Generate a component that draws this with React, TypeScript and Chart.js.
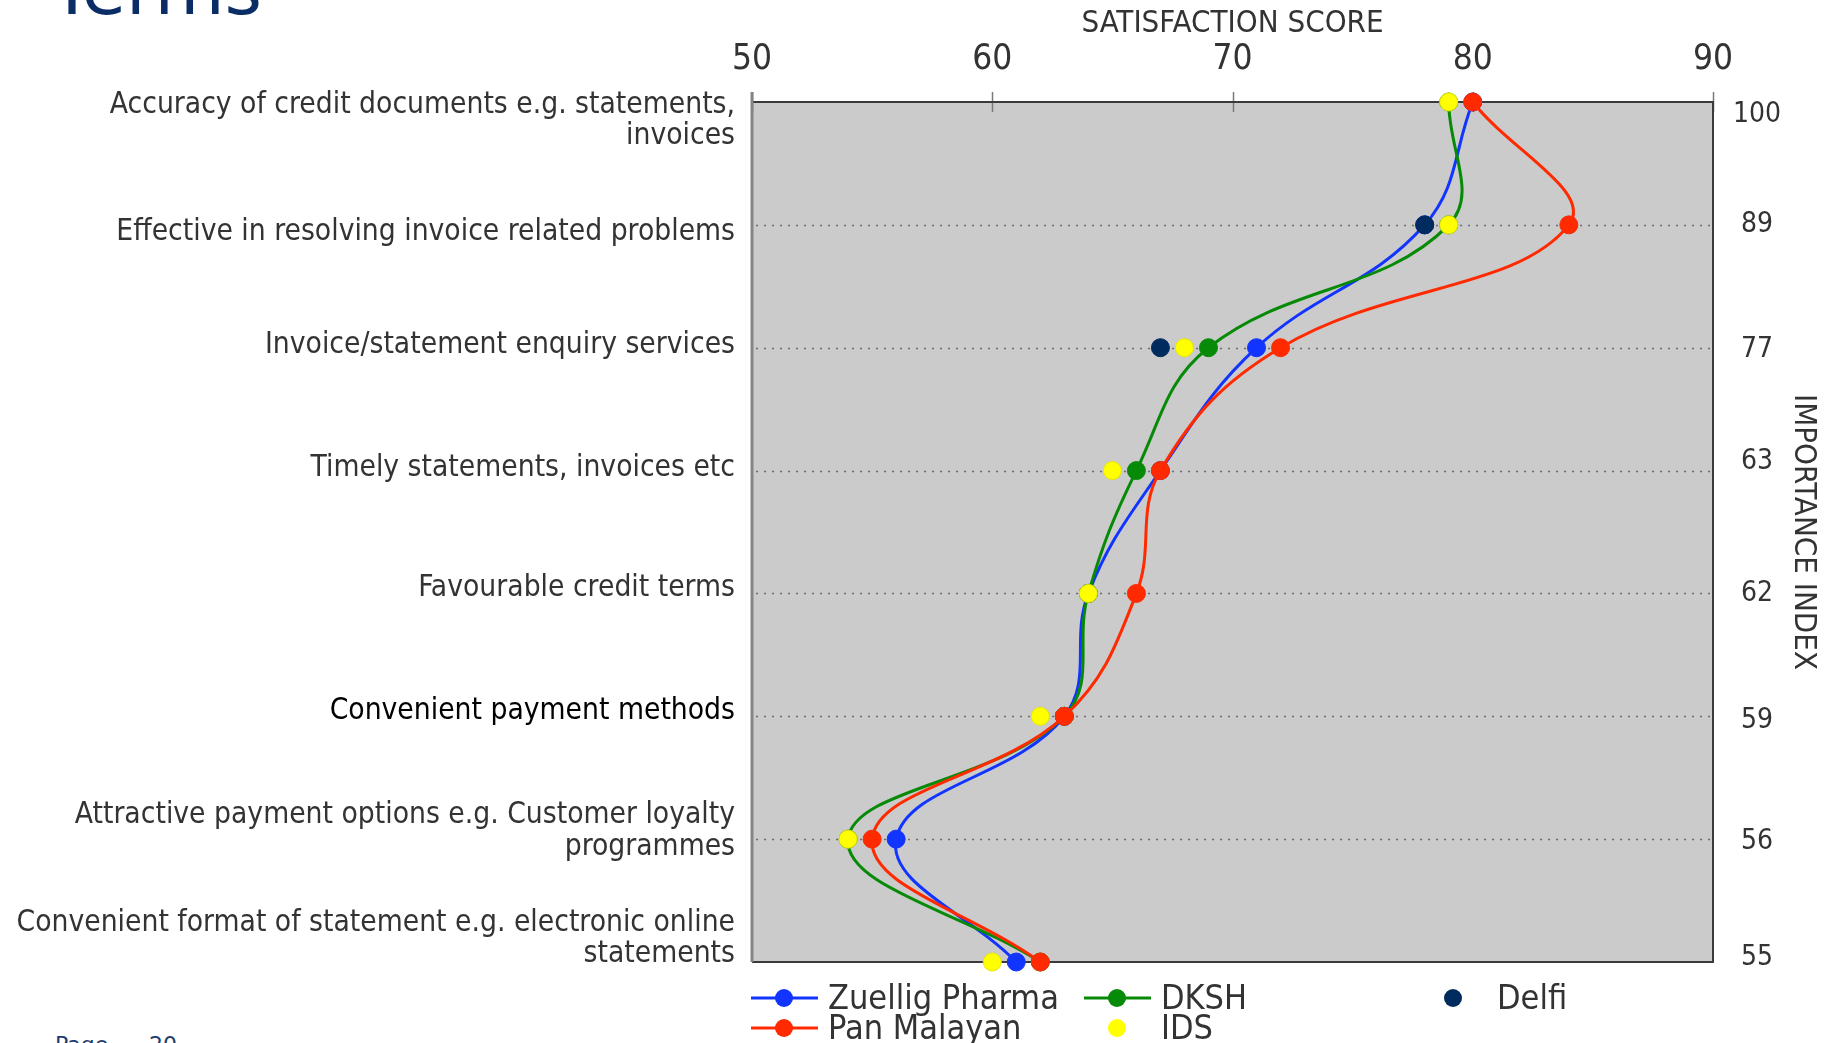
import React, { useEffect, useRef } from 'react';
import { Chart, registerables } from 'chart.js';

Chart.register(...registerables);

const categories: (string | string[])[] = [
  ['Accuracy of credit documents e.g. statements,', 'invoices'],
  'Effective in resolving invoice related problems',
  'Invoice/statement enquiry services',
  'Timely statements, invoices etc',
  'Favourable credit terms',
  'Convenient payment methods',
  ['Attractive payment options e.g. Customer loyalty', 'programmes'],
  ['Convenient format of statement e.g. electronic online', 'statements'],
];
const importanceIndex = ['100', '89', '77', '63', '62', '59', '56', '55'];
const scoreTicks = [50, 60, 70, 80, 90];

const zuelligPharma = [80, 78, 71, 67, 64, 63, 56, 61];
const dksh = [79, 79, 69, 66, 64, 63, 54, 62];
const delfi = [null, 78, 67, null, null, null, null, null];
const panMalayan = [80, 84, 72, 67, 66, 63, 55, 62];
const ids = [79, 79, 68, 65, 64, 62, 54, 60];

const F = "'DejaVu Sans Condensed', 'DejaVu Sans', sans-serif";
const TEXT = '#333333';

// small vertical nudges of tick labels (px), matching the original layout
const labelNudges: Record<string, number[]> = {
  y: [19, 7, -2, -2, -5, -5, -8, -23],
  y2: [13, 0, 2, -9, 0, 4, 3, -4],
};

const nudgeLabels = {
  id: 'nudgeLabels',
  beforeDraw(chart: any) {
    Object.keys(labelNudges).forEach((id) => {
      const scale = chart.scales[id];
      if (!scale) return;
      const items = scale.getLabelItems(chart.chartArea);
      items.forEach((it: any, i: number) => {
        if (it._nudged) return;
        const d = labelNudges[id][i] || 0;
        it.options.translation = [it.options.translation[0], it.options.translation[1] + d];
        it._nudged = true;
      });
    });
  },
};

const backdrop = {
  id: 'backdrop',
  beforeDatasetsDraw(chart: any) {
    const { ctx, chartArea: a, scales } = chart;
    const xs = scales.x;
    const ys = scales.y;
    ctx.save();
    ctx.fillStyle = '#cbcbcb';
    ctx.fillRect(a.left, a.top, a.right - a.left, a.bottom - a.top);
    ctx.strokeStyle = '#6c6c6c';
    ctx.lineWidth = 1.5;
    ctx.setLineDash([2, 6]);
    for (let i = 1; i < categories.length - 1; i++) {
      const py = Math.round(ys.getPixelForTick(i)) + 0.5;
      ctx.beginPath();
      ctx.moveTo(a.left + 4, py);
      ctx.lineTo(a.right, py);
      ctx.stroke();
    }
    ctx.setLineDash([]);
    ctx.strokeStyle = '#7a7a7a';
    ctx.lineWidth = 1.5;
    xs.ticks.forEach((t: any) => {
      const px = Math.round(xs.getPixelForValue(t.value)) + 0.5;
      ctx.beginPath();
      ctx.moveTo(px, a.top - 10);
      ctx.lineTo(px, a.top + 10);
      ctx.stroke();
    });
    ctx.strokeStyle = '#3a3a3a';
    ctx.lineWidth = 2;
    ctx.beginPath();
    ctx.moveTo(a.left, a.top);
    ctx.lineTo(a.right, a.top);
    ctx.lineTo(a.right, a.bottom);
    ctx.lineTo(a.left, a.bottom);
    ctx.stroke();
    ctx.strokeStyle = '#858585';
    ctx.lineWidth = 3;
    ctx.beginPath();
    ctx.moveTo(a.left, a.top - 10);
    ctx.lineTo(a.left, a.bottom);
    ctx.stroke();
    ctx.restore();
  },
};

const customLegend = {
  id: 'customLegend',
  afterDraw(chart: any) {
    const { ctx } = chart;
    const cols = [751, 1084, 1420];
    const rows = [998, 1028];
    ctx.save();
    chart.data.datasets.forEach((ds: any, i: number) => {
      const x0 = cols[i % 3];
      const y = rows[Math.floor(i / 3)];
      if (ds.showLine !== false) {
        ctx.strokeStyle = ds.borderColor;
        ctx.lineWidth = 3;
        ctx.beginPath();
        ctx.moveTo(x0, y);
        ctx.lineTo(x0 + 67, y);
        ctx.stroke();
      }
      ctx.fillStyle = ds.pointBackgroundColor;
      ctx.beginPath();
      ctx.arc(x0 + 33, y, 9, 0, Math.PI * 2);
      ctx.fill();
      ctx.fillStyle = TEXT;
      ctx.font = `34px ${F}`;
      ctx.textBaseline = 'alphabetic';
      ctx.textAlign = 'left';
      ctx.fillText(ds.label, x0 + 77, y + 11);
    });
    ctx.restore();
  },
};

function series(label: string, data: (number | null)[], color: string, order: number, showLine = true, border?: string) {
  return {
    label,
    data,
    order,
    showLine,
    borderColor: color,
    backgroundColor: color,
    borderWidth: 3,
    tension: 0.4,
    pointRadius: 9,
    pointHoverRadius: 9,
    pointBackgroundColor: color,
    pointBorderColor: border || color,
    pointBorderWidth: 1,
    clip: false as any,
    yAxisID: 'y',
    xAxisID: 'x',
  };
}

export default function App() {
  const ref = useRef<HTMLCanvasElement>(null);

  useEffect(() => {
    const chart = new Chart(ref.current as HTMLCanvasElement, {
      type: 'line',
      data: {
        labels: categories as any,
        datasets: [
          series('Zuellig Pharma', zuelligPharma, '#1234ff', 4),
          series('DKSH', dksh, '#078a07', 3),
          series('Delfi', delfi, '#002b5e', 2, false),
          series('Pan Malayan', panMalayan, '#ff2a00', 1),
          series('IDS', ids, '#ffff00', 0, false, '#e6e600'),
        ] as any,
      },
      options: {
        indexAxis: 'y',
        responsive: true,
        maintainAspectRatio: false,
        animation: false,
        layout: { padding: { left: 0, right: 0, top: 0, bottom: 81 } },
        plugins: {
          legend: { display: false },
          tooltip: { enabled: false },
        },
        scales: {
          x: {
            type: 'linear',
            position: 'top',
            min: 50,
            max: 90,
            afterBuildTicks: (s: any) => {
              s.ticks = scoreTicks.map((v) => ({ value: v }));
            },
            ticks: { font: { family: F, size: 35 }, color: TEXT, padding: 21 },
            grid: { display: false, drawTicks: false },
            border: { display: false },
            title: {
              display: true,
              text: 'SATISFACTION SCORE',
              font: { family: F, size: 31 },
              color: TEXT,
              padding: { top: 5, bottom: 0 },
            },
            afterFit: (s: any) => {
              s.height = 102;
            },
          },
          y: {
            type: 'category',
            position: 'left',
            offset: false,
            grid: { display: false, drawTicks: false },
            border: { display: false },
            ticks: {
              font: { family: F, size: 29.7, lineHeight: 1.06 },
              color: (c: any) => (c.index === 5 ? '#000000' : TEXT),
              padding: 17,
              autoSkip: false,
            },
            afterFit: (s: any) => {
              s.width = 752;
            },
          },
          y2: {
            type: 'category',
            position: 'right',
            labels: importanceIndex,
            offset: false,
            grid: { display: false, drawTicks: false },
            border: { display: false },
            ticks: {
              font: { family: F, size: 28 },
              color: TEXT,
              padding: 20,
              crossAlign: 'center',
              autoSkip: false,
            },
            title: {
              display: true,
              text: 'IMPORTANCE INDEX',
              font: { family: F, size: 31 },
              color: TEXT,
              padding: { top: 10, bottom: 0 },
            },
            afterFit: (s: any) => {
              s.width = 1832 - 1713;
            },
          },
        } as any,
      },
      plugins: [backdrop, nudgeLabels, customLegend],
    });
    return () => chart.destroy();
  }, []);

  return (
    <div
      style={{
        position: 'absolute',
        left: 0,
        top: 0,
        width: 1832,
        height: 1043,
        overflow: 'hidden',
        background: '#ffffff',
      }}
    >
      <div
        style={{
          position: 'absolute',
          left: 50,
          top: -47,
          fontFamily: "'DejaVu Sans', sans-serif",
          fontSize: 72,
          lineHeight: '72px',
          color: '#0b2d66',
          whiteSpace: 'nowrap',
        }}
      >
        Terms
      </div>
      <div
        style={{
          position: 'absolute',
          left: 55,
          top: 1034,
          fontFamily: "'DejaVu Sans', sans-serif",
          fontSize: 22,
          lineHeight: '22px',
          color: '#1f3c6e',
          whiteSpace: 'nowrap',
        }}
      >
        Page
      </div>
      <div
        style={{
          position: 'absolute',
          left: 149,
          top: 1034,
          fontFamily: "'DejaVu Sans', sans-serif",
          fontSize: 22,
          lineHeight: '22px',
          color: '#1f3c6e',
          whiteSpace: 'nowrap',
        }}
      >
        20
      </div>
      <div style={{ position: 'absolute', left: 0, top: 0, width: 1832, height: 1043 }}>
        <canvas ref={ref} />
      </div>
    </div>
  );
}
